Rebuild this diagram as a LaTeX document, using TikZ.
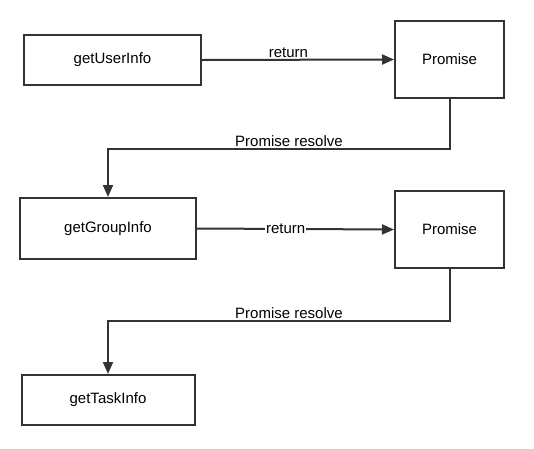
\documentclass[tikz,border=0pt]{standalone}
\usepackage{fontspec}
\setmainfont{Liberation Sans}
\usetikzlibrary{arrows.meta}
\definecolor{ink}{HTML}{333333}
\begin{document}
\begin{tikzpicture}[x=1pt,y=-1pt,
  box/.style={draw=ink,line width=2pt,fill=white,minimum height=0pt,minimum width=0pt,inner sep=0pt,font=\fontsize{15}{17}\selectfont},
  conn/.style={draw=ink,line width=2pt,-{Triangle[length=12pt,width=10pt]}},
  lbl/.style={font=\fontsize{15}{17}\selectfont,inner sep=1pt}]
\useasboundingbox (0,0) rectangle (534,448);
\node[box,minimum width=177pt,minimum height=50pt] (user) at (112.5,60) {getUserInfo};
\node[box,minimum width=109pt,minimum height=77pt] (p1) at (449.5,59.5) {Promise};
\node[box,minimum width=176pt,minimum height=61pt] (group) at (108,228.5) {getGroupInfo};
\node[box,minimum width=109pt,minimum height=77pt] (p2) at (449.5,229.5) {Promise};
\node[box,minimum width=173pt,minimum height=50pt] (task) at (108,400) {getTaskInfo};
\coordinate (c1) at (449.5,149);
\coordinate (c2) at (108,149);
\coordinate (c3) at (449.5,321);
\coordinate (c4) at (108,321);
\draw[conn] (user.east) -- (p1.west) node[lbl,pos=0.45,above] {return};
\draw[conn] (group.east) -- (p2.west) node[lbl,pos=0.45,fill=white] {return};
\draw[conn] (p1.south) -- (c1) -- (c2) node[lbl,pos=0.47,above] {Promise resolve} -- (group.north);
\draw[conn] (p2.south) -- (c3) -- (c4) node[lbl,pos=0.47,above] {Promise resolve} -- (task.north);
\end{tikzpicture}
\end{document}
